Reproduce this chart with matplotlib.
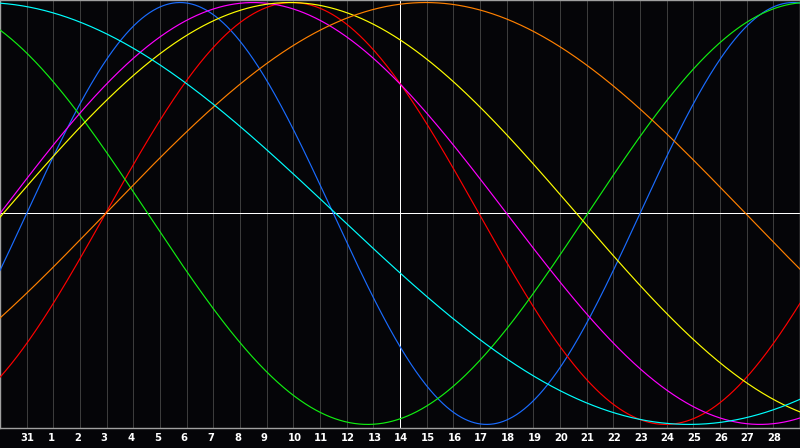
import matplotlib
matplotlib.use("Agg")
import numpy as np
import matplotlib.pyplot as plt


# day labels along the bottom, one per gridline (position 1 = Jan 31)
day_labels = ["31"] + [str(d) for d in range(1, 29)]
day_positions = list(range(1, len(day_labels) + 1))
today = 15  # Feb 14

# biorhythm cycles: period in days and the day each curve crosses zero going up
cycle_names = ["physical", "emotional", "intellectual", "intuitive",
               "aesthetic", "awareness", "spiritual"]
cycle_periods = [23, 28, 33, 38, 43, 48, 53]
cycle_zero_up = [1.0, 3.96, 22.04, 0.0, 0.12, 3.96, -13.91]
cycle_colors = ["#1a6cff", "#ff0000", "#11ee11", "#ff00ff",
                "#ffff00", "#ff8000", "#00ffff"]

bg = "#050508"
px = 0.72  # one pixel in points at 100 dpi

fig = plt.figure(figsize=(8, 4.48), dpi=100, facecolor=bg)
ax = fig.add_axes([0, 20 / 448, 1, 428 / 448], facecolor=bg)

days = np.linspace(0, 30, 1500)

# vertical day gridlines
for d in range(1, 30):
    ax.axvline(d, color="#3c3c3c", lw=px, zorder=1, antialiased=False)

ax.axhline(0, color="white", lw=px, zorder=2, antialiased=False)
ax.axvline(today, color="white", lw=px, zorder=2, antialiased=False)

for name, period, z0, color in zip(cycle_names, cycle_periods, cycle_zero_up, cycle_colors):
    values = np.sin(2 * np.pi * (days - z0) / period)
    ax.plot(days, values, color=color, lw=0.85, zorder=3, label=name)

ax.set_xlim(0, 30)
ax.set_ylim(-1.017, 1.012)
ax.set_xticks([])
ax.set_yticks([])
for side in ["top", "left", "bottom", "right"]:
    ax.spines[side].set_color("#a0a0a0")
    ax.spines[side].set_linewidth(1.0)

for pos, label in zip(day_positions, day_labels):
    ax.text(pos - 0.225, -0.0234, label, transform=ax.get_xaxis_transform(),
            ha="left", va="center", color="white", fontsize=7.2,
            fontweight="bold", family="DejaVu Sans")

fig.savefig("out.png", dpi=100, facecolor=bg)
